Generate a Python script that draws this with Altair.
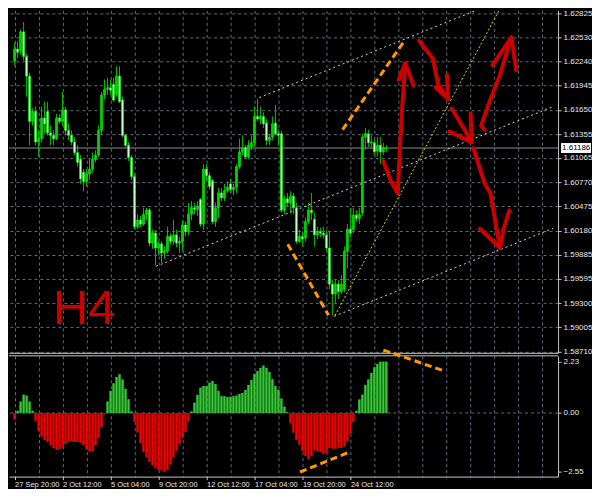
import altair as alt
import pandas as pd

# ---------------- data ----------------
opens = [1.6225,1.6239,1.6237,1.6260,1.6230,1.6206,1.6151,1.6163,1.6126,1.6130,
 1.6155,1.6163,1.6137,1.6134,1.6130,1.6155,1.6151,1.6165,1.6140,1.6134,
 1.6126,1.6113,1.6105,1.6089,1.6078,1.6087,1.6093,1.6105,1.6110,1.6140,
 1.6183,1.6190,1.6192,1.6196,1.6184,1.6206,1.6177,1.6134,1.6122,1.6107,
 1.6084,1.6023,1.6031,1.6026,1.6038,1.6043,1.6003,1.6015,1.5997,1.6002,
 1.5991,1.5993,1.6011,1.6005,1.6013,1.6003,1.6005,1.6025,1.6017,1.6038,
 1.6046,1.6044,1.6056,1.6026,1.6093,1.6085,1.6079,1.6029,1.6046,1.6064,
 1.6058,1.6067,1.6075,1.6068,1.6071,1.6096,1.6114,1.6119,1.6108,1.6120,
 1.6125,1.6157,1.6154,1.6157,1.6149,1.6128,1.6132,1.6149,1.6136,1.6136,
 1.6043,1.6057,1.6052,1.6060,1.6046,1.6005,1.6011,1.6009,1.6029,1.6043,
 1.6032,1.6013,1.6017,1.6015,1.6013,1.5997,1.5953,1.5941,1.5953,1.5944,
 1.5947,1.5993,1.6020,1.6019,1.6037,1.6033,1.6040,1.6132,1.6136,1.6125,
 1.6125,1.6115,1.6122,1.6114,1.6118]
highs = [1.6247,1.6249,1.6263,1.6272,1.6233,1.6210,1.6167,1.6169,1.6140,1.6169,
 1.6175,1.6175,1.6146,1.6140,1.6160,1.6160,1.6187,1.6169,1.6148,1.6140,
 1.6132,1.6122,1.6110,1.6093,1.6093,1.6105,1.6113,1.6116,1.6146,1.6187,
 1.6202,1.6204,1.6202,1.6204,1.6218,1.6218,1.6181,1.6136,1.6126,1.6110,
 1.6087,1.6038,1.6036,1.6046,1.6046,1.6046,1.6019,1.6019,1.6005,1.6005,
 1.5999,1.6023,1.6015,1.6031,1.6019,1.6011,1.6031,1.6029,1.6052,1.6054,
 1.6052,1.6054,1.6058,1.6099,1.6099,1.6089,1.6081,1.6052,1.6070,1.6070,
 1.6075,1.6078,1.6081,1.6075,1.6099,1.6130,1.6134,1.6122,1.6128,1.6134,
 1.6169,1.6178,1.6169,1.6162,1.6154,1.6136,1.6157,1.6171,1.6140,1.6140,
 1.6061,1.6064,1.6066,1.6064,1.6052,1.6019,1.6017,1.6034,1.6052,1.6064,
 1.6040,1.6023,1.6022,1.6023,1.6019,1.6017,1.5958,1.5958,1.5958,1.5964,
 1.5999,1.6026,1.6046,1.6046,1.6043,1.6046,1.6136,1.6143,1.6141,1.6134,
 1.6130,1.6132,1.6132,1.6125,1.6122]
lows = [1.6219,1.6228,1.6232,1.6225,1.6181,1.6122,1.6146,1.6122,1.6108,1.6125,
 1.6136,1.6134,1.6122,1.6122,1.6128,1.6148,1.6146,1.6134,1.6128,1.6122,
 1.6110,1.6096,1.6075,1.6066,1.6072,1.6080,1.6089,1.6101,1.6108,1.6134,
 1.6178,1.6183,1.6183,1.6175,1.6181,1.6173,1.6132,1.6120,1.6103,1.6080,
 1.6020,1.6020,1.6022,1.6024,1.6031,1.5999,1.5996,1.5976,1.5988,1.5979,
 1.5984,1.5990,1.6001,1.6001,1.5998,1.5991,1.5993,1.6011,1.6012,1.6031,
 1.6038,1.6036,1.6023,1.6019,1.6078,1.6068,1.6026,1.6023,1.6034,1.6054,
 1.6054,1.6064,1.6064,1.6061,1.6064,1.6093,1.6110,1.6105,1.6105,1.6116,
 1.6120,1.6151,1.6148,1.6143,1.6122,1.6122,1.6128,1.6134,1.6122,1.6040,
 1.6038,1.6047,1.6040,1.6038,1.6002,1.6003,1.5999,1.6005,1.6026,1.6031,
 1.5999,1.6008,1.6010,1.6008,1.5993,1.5947,1.5915,1.5929,1.5935,1.5941,
 1.5943,1.5972,1.6010,1.6015,1.6029,1.6026,1.6036,1.6116,1.6120,1.6119,
 1.6110,1.6108,1.6099,1.6110,1.6114]
closes = [1.6239,1.6235,1.6260,1.6230,1.6206,1.6151,1.6163,1.6126,1.6130,1.6155,
 1.6148,1.6137,1.6134,1.6130,1.6155,1.6151,1.6165,1.6140,1.6134,1.6126,
 1.6113,1.6101,1.6081,1.6078,1.6087,1.6093,1.6105,1.6110,1.6140,1.6183,
 1.6190,1.6192,1.6189,1.6177,1.6206,1.6175,1.6134,1.6122,1.6107,1.6084,
 1.6023,1.6031,1.6026,1.6038,1.6043,1.6003,1.6015,1.5997,1.6002,1.5991,
 1.5993,1.6011,1.6005,1.6013,1.6003,1.6005,1.6025,1.6017,1.6038,1.6046,
 1.6044,1.6048,1.6026,1.6093,1.6085,1.6072,1.6029,1.6046,1.6064,1.6058,
 1.6067,1.6071,1.6068,1.6071,1.6096,1.6114,1.6119,1.6108,1.6122,1.6125,
 1.6157,1.6154,1.6157,1.6148,1.6128,1.6132,1.6148,1.6136,1.6134,1.6043,
 1.6057,1.6052,1.6060,1.6046,1.6005,1.6011,1.6008,1.6029,1.6043,1.6040,
 1.6013,1.6017,1.6015,1.6013,1.5997,1.5953,1.5941,1.5953,1.5944,1.5953,
 1.5993,1.6020,1.6015,1.6037,1.6033,1.6038,1.6132,1.6136,1.6125,1.6126,
 1.6114,1.6122,1.6114,1.6119,1.61186]
hist = [-0.28,0.10,0.50,0.80,0.76,0.50,0.10,-0.35,-0.79,-1.03,
 -1.17,-1.26,-1.40,-1.53,-1.60,-1.58,-1.48,-1.34,-1.26,-1.23,
 -1.26,-1.26,-1.30,-1.40,-1.58,-1.68,-1.65,-1.40,-1.09,-0.62,
 -0.06,0.50,0.96,1.29,1.56,1.68,1.46,1.05,0.60,0.07,
 -0.39,-0.85,-1.31,-1.69,-1.92,-2.13,-2.27,-2.41,-2.48,-2.50,
 -2.55,-2.48,-2.23,-1.92,-1.64,-1.36,-1.08,-0.83,-0.38,0.07,
 0.45,0.79,1.10,1.17,1.17,1.32,1.39,1.26,0.97,0.73,
 0.73,0.69,0.71,0.73,0.76,0.83,0.87,1.00,1.22,1.43,
 1.70,1.82,1.96,2.06,1.96,1.78,1.47,1.17,1.00,0.63,
 0.28,0.03,-0.45,-0.85,-1.18,-1.38,-1.66,-1.87,-2.01,-1.87,
 -1.62,-1.66,-1.69,-1.77,-1.73,-1.52,-1.55,-1.55,-1.52,-1.52,
 -1.45,-1.23,-0.92,-0.39,0.10,0.59,0.80,1.22,1.46,1.74,
 1.99,2.13,2.23,2.23,2.23]

price_levels = [1.58710,1.59005,1.59300,1.59595,1.59885,1.60180,1.60475,1.60770,
                1.61065,1.61355,1.61650,1.61945,1.62240,1.62530,1.62825]
osc_levels = [-2.55, 0.0, 2.23]
date_labels = ["27 Sep 20:00","2 Oct 12:00","5 Oct 04:00","9 Oct 20:00",
               "12 Oct 12:00","17 Oct 04:00","19 Oct 20:00","24 Oct 12:00"]
current_price = 1.61186

# channel lines (bar index, price)
channels = {"upper": [(81.6, 1.6180), (179.6, 1.63237)],
            "middle": [(47.2, 1.59748), (179.6, 1.61689)],
            "lower": [(106.6, 1.59139), (179.6, 1.60209)]}
yellow_line = [(106.9, 1.59151), (161.6, 1.6286)]
orange_main = {"o1": [(109.4, 1.61409), (129.7, 1.62474)],
               "o2": [(91.1, 1.60017), (104.7, 1.59151)]}
orange_osc = {"o3": [(123.0, 2.73), (143.6, 1.81)],
              "o4": [(95.2, -2.56), (112.0, -1.68)]}
red_arrows = {
 "A1": [(123.0,1.61023),(125.6,1.60777),(127.8,1.60637),(128.4,1.61105),(129.3,1.61690),(130.3,1.62216)],
 "A2": [(128.1,1.62018),(130.3,1.62216),(133.1,1.61947)],
 "B1": [(135.0,1.62486),(139.5,1.62275),(141.3,1.61959),(144.5,1.61784)],
 "B2": [(140.4,1.61924),(144.5,1.61784),(144.2,1.62076)],
 "C1": [(145.8,1.61667),(149.9,1.61421),(152.4,1.61257)],
 "C2": [(145.1,1.61386),(152.4,1.61257),(152.1,1.61608)],
 "D1": [(156.8,1.61409),(155.6,1.61456),(157.8,1.61690),(161.9,1.62076),(165.7,1.62532)],
 "D2": [(159.4,1.62193),(165.7,1.62532),(167.3,1.62135)],
 "E1": [(153.0,1.61187),(156.8,1.60754),(158.7,1.60637),(161.9,1.59970)],
 "E2": [(155.2,1.60204),(161.9,1.59970),(163.1,1.60204),(165.0,1.60426)],
}
label_h4 = [(12.8, 1.59046, "H4")]

# ---------------- tables ----------------
n = len(closes)
candles = pd.DataFrame({"x": list(range(n)), "open": opens, "high": highs,
                        "low": lows, "close": closes, "hist": hist})
candles["pos"] = candles["hist"] >= 0

def lines_df(d):
    rows = []
    for g, pts in d.items():
        for i, (x, y) in enumerate(pts):
            rows.append({"g": g, "o": i, "x": x, "y": y})
    return pd.DataFrame(rows)

# ---------------- layout ----------------
W, H1, H2 = 550, 343, 121
GRID = "#646a78"
FRAME = "#c8c8c8"
LBL = "#e8e8e8"
FONT = "Liberation Sans"
xgrid = list(range(0, 177, 8))
OSC_DOMAIN = [-2.76, 2.48]
xs = alt.Scale(domain=[-0.2, 179.6], nice=False, zero=False)
ys = alt.Scale(domain=[1.58695, 1.62860], nice=False, zero=False)
os_ = alt.Scale(domain=OSC_DOMAIN, nice=False, zero=False)

ax_x_main = alt.Axis(values=xgrid, grid=True, gridDash=[3, 3], gridColor=GRID,
                     labels=False, ticks=False, domain=True, domainColor=FRAME, title=None)
ax_y_main = alt.Axis(orient="right", values=price_levels, format=".5f", grid=True,
                     gridDash=[3, 3], gridColor=GRID, tickSize=3, tickColor=FRAME,
                     domainColor=FRAME, labelColor=LBL, labelFontSize=8, labelFont=FONT,
                     labelPadding=2, labelOverlap=False, title=None)

def X(field="x"):
    return alt.X(f"{field}:Q", scale=xs, axis=ax_x_main)

def Y(field):
    return alt.Y(f"{field}:Q", scale=ys, axis=ax_y_main)

wicks = alt.Chart(candles).mark_rule(color="#00c000", strokeWidth=1).encode(
    x=X(), y=Y("low"), y2="high")
bodies = alt.Chart(candles).mark_bar(size=2, stroke="#00ff00", strokeWidth=0.6).encode(
    x=X(), y=Y("open"), y2="close",
    fill=alt.condition("datum.close < datum.open", alt.value("#c8ffc8"), alt.value("#00d000")))

cur = pd.DataFrame({"y": [current_price], "t": [f"{current_price:.5f}"]})
cur_line = alt.Chart(cur).mark_rule(color="#8c8c8c", strokeWidth=1).encode(y=Y("y"))
cur_box = alt.Chart(cur).mark_tick(orient="horizontal", size=30, thickness=10,
                                   color="white", opacity=1, clip=False).encode(
    y=Y("y"), x=alt.value(W + 18))
cur_txt = alt.Chart(cur).mark_text(align="left", baseline="middle", fontSize=8, font=FONT,
                                   color="black", clip=False).encode(
    y=Y("y"), x=alt.value(W + 4), text="t:N")

chan = alt.Chart(lines_df(channels)).mark_line(color="#d0d0d0", strokeWidth=1,
                                               strokeDash=[2, 3], clip=True).encode(
    x=X(), y=Y("y"), detail="g:N", order="o:Q")
yel = alt.Chart(lines_df({"y": yellow_line})).mark_line(color="#d8d800", strokeWidth=1,
                                                        strokeDash=[2, 2], clip=True).encode(
    x=X(), y=Y("y"), detail="g:N", order="o:Q")
orange1 = alt.Chart(lines_df(orange_main)).mark_line(color="#ff9900", strokeWidth=3,
                                                     strokeDash=[7, 4]).encode(
    x=X(), y=Y("y"), detail="g:N", order="o:Q")
arrows = alt.Chart(lines_df(red_arrows)).mark_line(color="#cc0000", strokeWidth=4,
                                                   strokeCap="round", strokeJoin="round").encode(
    x=X(), y=Y("y"), detail="g:N", order="o:Q")
h4 = alt.Chart(pd.DataFrame(label_h4, columns=["x", "y", "t"])).mark_text(
    align="left", baseline="alphabetic", fontSize=49, font=FONT, color="#cc0000").encode(
    x=X(), y=Y("y"), text="t:N")

main = alt.layer(wicks, cur_line, chan, yel, bodies, orange1, arrows, h4,
                 cur_box, cur_txt).properties(width=W, height=H1)

# ---------------- oscillator ----------------
lbl_expr = ("datum.value % 16 === 0 && datum.value <= 112 ? ["
            + ",".join("'" + s + "'" for s in date_labels) + "][datum.value / 16] : ''")
ax_x_osc = alt.Axis(values=xgrid, grid=True, gridDash=[3, 3], gridColor=GRID,
                    labelExpr=lbl_expr, labelAlign="left", labelFlush=False,
                    labelColor=LBL, labelFontSize=7.5, labelFont=FONT, labelPadding=1,
                    labelOverlap=False, tickSize=3, tickColor=FRAME,
                    tickOpacity={"condition": {"test": "datum.value % 16 === 0 && datum.value <= 112",
                                               "value": 1}, "value": 0},
                    domainColor=FRAME, title=None)
ax_y_osc = alt.Axis(orient="right", values=osc_levels, format=".2f", grid=False,
                    tickSize=3, tickColor=FRAME, domainColor=FRAME, labelColor=LBL,
                    labelFontSize=8, labelFont=FONT, labelPadding=2, labelOverlap=False,
                    title=None)

def XO(field="x"):
    return alt.X(f"{field}:Q", scale=xs, axis=ax_x_osc)

def YO(field):
    return alt.Y(f"{field}:Q", scale=os_, axis=ax_y_osc)

zero = alt.Chart(pd.DataFrame({"y": [0.0]})).mark_rule(
    color=GRID, strokeDash=[3, 3], strokeWidth=1).encode(y=YO("y"))
top_border = alt.Chart(pd.DataFrame({"y": [OSC_DOMAIN[1]]})).mark_rule(
    color=FRAME, strokeWidth=1).encode(y=YO("y"))
bars = alt.Chart(candles).mark_bar(size=2.4).encode(
    x=XO(), y=YO("hist"),
    color=alt.Color("pos:N", scale=alt.Scale(domain=[True, False],
                                              range=["#34c934", "#f00000"]), legend=None))
orange2 = alt.Chart(lines_df(orange_osc)).mark_line(color="#ff9900", strokeWidth=3,
                                                    strokeDash=[7, 4], clip=False).encode(
    x=XO(), y=YO("y"), detail="g:N", order="o:Q")

osc = alt.layer(zero, top_border, bars, orange2).properties(width=W, height=H2)

chart = alt.vconcat(main, osc, spacing=3, bounds="flush").properties(
    padding=0, background="black").configure_view(stroke=None)

chart.save("out.html", embed_options={"renderer": "svg", "actions": False})
